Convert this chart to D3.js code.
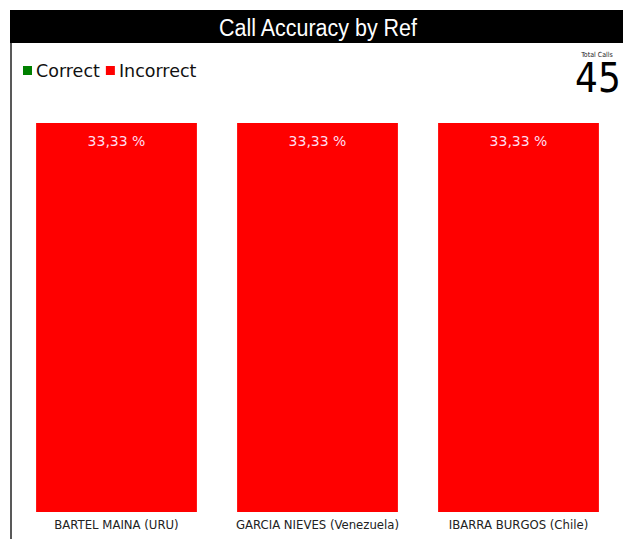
<!DOCTYPE html>
<html><head><meta charset="utf-8">
<script src="https://cdn.jsdelivr.net/npm/d3@7"></script>
<style>
html,body{margin:0;padding:0;background:#fff;overflow:hidden}
svg{display:block}
</style></head>
<body>
<script>
const title = "Call Accuracy by Ref";
const categories = ["BARTEL MAINA (URU)", "GARCIA NIEVES (Venezuela)", "IBARRA BURGOS (Chile)"];
const correctValues = [0, 0, 0];
const incorrectValues = [33.33, 33.33, 33.33];
const incorrectLabels = ["33,33 %", "33,33 %", "33,33 %"];
const seriesNames = ["Correct", "Incorrect"];
const seriesColors = ["#008000", "#ff0000"];
const totalCallsLabel = "Total Calls";
const totalCalls = 45;

const W = 623, H = 539;
const svg = d3.select("body").append("svg").attr("width", W).attr("height", H);

// frame
svg.append("line").attr("x1", 11).attr("x2", 11).attr("y1", 10).attr("y2", H)
  .attr("stroke", "#222").attr("stroke-width", 1.5);
svg.append("rect").attr("x", 10).attr("y", 10).attr("width", W - 10).attr("height", 33).attr("fill", "#000");
svg.append("text").attr("x", 318).attr("y", 36).attr("text-anchor", "middle")
  .attr("fill", "#fff").attr("font-family", "Liberation Sans, Arial, sans-serif")
  .attr("font-size", 23.5).attr("textLength", 198).attr("lengthAdjust", "spacingAndGlyphs")
  .text(title);

// legend
const legend = svg.append("g").attr("font-family", "DejaVu Sans, sans-serif").attr("font-size", 17.5);
let lx = 23;
seriesNames.forEach((n, i) => {
  legend.append("rect").attr("x", lx).attr("y", 66).attr("width", 9).attr("height", 9).attr("fill", seriesColors[i]);
  const t = legend.append("text").attr("x", lx + 13).attr("y", 77).attr("fill", "#111").text(n);
  lx += 13 + t.node().getComputedTextLength() + 6;
});

// total calls
svg.append("text").attr("x", 597).attr("y", 57).attr("text-anchor", "middle")
  .attr("font-family", "DejaVu Sans Condensed, DejaVu Sans, sans-serif").attr("font-size", 7)
  .attr("fill", "#222").text(totalCallsLabel);
svg.append("text").attr("x", 598).attr("y", 92).attr("text-anchor", "middle")
  .attr("font-family", "DejaVu Sans Condensed, DejaVu Sans, sans-serif").attr("font-size", 40)
  .attr("font-stretch", "condensed").attr("fill", "#000").text(totalCalls);

// scales
const x = d3.scaleBand().domain(categories).range([16, 619]).paddingInner(0.2).paddingOuter(0.1);
const y = d3.scaleLinear().domain([0, d3.max(categories.map((c, i) => correctValues[i] + incorrectValues[i]))]).range([512, 123]);

const data = categories.map((c, i) => ({ cat: c, Correct: correctValues[i], Incorrect: incorrectValues[i], label: incorrectLabels[i] }));
const stack = d3.stack().keys(seriesNames)(data);

svg.append("g").selectAll("g").data(stack).join("g")
  .attr("fill", (d, i) => seriesColors[i])
  .selectAll("rect").data(d => d).join("rect")
  .attr("x", d => x(d.data.cat))
  .attr("width", x.bandwidth())
  .attr("y", d => y(d[1]))
  .attr("height", d => y(d[0]) - y(d[1]));

// value labels
svg.append("g").selectAll("text").data(data).join("text")
  .attr("x", d => x(d.cat) + x.bandwidth() / 2)
  .attr("y", d => y(d.Correct + d.Incorrect) + 23)
  .attr("text-anchor", "middle")
  .attr("font-family", "DejaVu Sans, sans-serif").attr("font-size", 14)
  .attr("fill", "#fde").text(d => d.label);

// x axis
const xa = svg.append("g").attr("transform", "translate(0,512)")
  .call(d3.axisBottom(x).tickSize(0).tickPadding(8));
xa.select(".domain").remove();
xa.selectAll("text").attr("font-family", "DejaVu Sans Condensed, DejaVu Sans, sans-serif")
  .attr("font-size", 13).attr("font-weight", 500).attr("fill", "#222");
</script>
</body></html>
